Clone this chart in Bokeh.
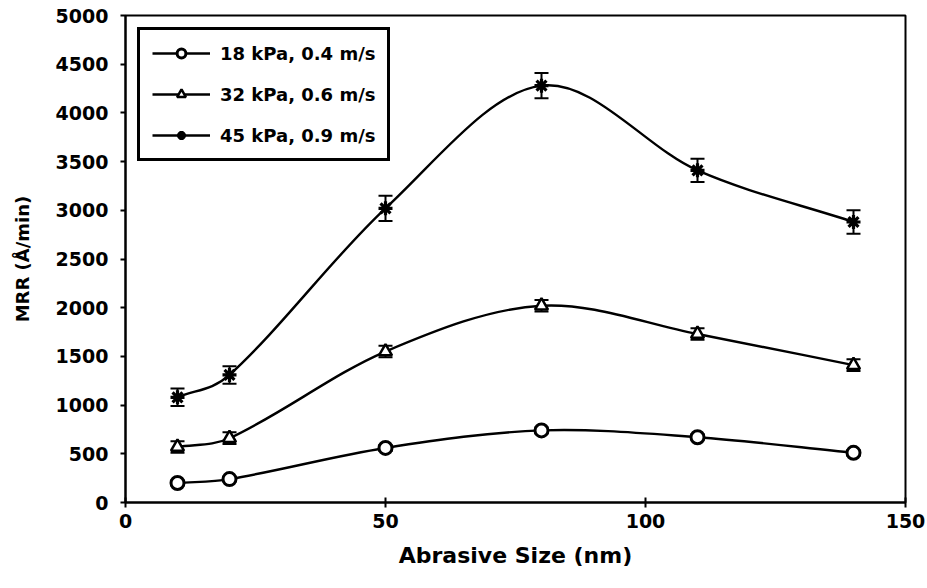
from bokeh.plotting import figure
from bokeh.models import ColumnDataSource, Whisker, TeeHead, Legend, LegendItem, FixedTicker, Range1d
from bokeh.embed import file_html
from bokeh.resources import INLINE

# Abrasive size (nm) and material removal rate (Å/min) for three pad conditions
abrasive_size = [10, 20, 50, 80, 110, 140]

mrr_18kpa = [200, 240, 560, 740, 670, 510]
err_18kpa = [25, 25, 30, 30, 30, 30]

mrr_32kpa = [570, 660, 1550, 2020, 1730, 1410]
err_32kpa = [60, 60, 60, 60, 60, 60]

mrr_45kpa = [1080, 1310, 3020, 4280, 3410, 2880]
err_45kpa = [90, 90, 130, 130, 120, 120]

series_labels = ["18 kPa, 0.4 m/s", "32 kPa, 0.6 m/s", "45 kPa, 0.9 m/s"]
y_ticks = [0, 500, 1000, 1500, 2000, 2500, 3000, 3500, 4000, 4500, 5000]
x_ticks = [0, 50, 100, 150]

FONT = "DejaVu Sans"

p = figure(width=927, height=588, output_backend="svg", toolbar_location=None,
           x_range=Range1d(0, 150), y_range=Range1d(0, 5000))
p.min_border_left = 125
p.min_border_right = 22
p.min_border_top = 15
p.min_border_bottom = 86
p.grid.visible = False
p.outline_line_color = "black"
p.outline_line_width = 2
p.outline_line_alpha = 1
p.background_fill_color = "white"
p.border_fill_color = "white"

for ax in (p.xaxis, p.yaxis):
    ax.axis_line_width = 2
    ax.axis_line_color = "black"
    ax.major_tick_line_width = 2
    ax.minor_tick_line_color = None
    ax.major_label_text_font = FONT
    ax.major_label_text_font_style = "bold"
    ax.major_label_text_font_size = "19px"
    ax.major_label_text_color = "black"
    ax.axis_label_text_font = FONT
    ax.axis_label_text_font_style = "bold"
    ax.axis_label_text_color = "black"

p.xaxis.ticker = FixedTicker(ticks=x_ticks)
p.yaxis.ticker = FixedTicker(ticks=y_ticks)
p.xaxis.major_tick_in = 5
p.xaxis.major_tick_out = 5
p.yaxis.major_tick_in = 0
p.yaxis.major_tick_out = 5
p.xaxis.major_label_standoff = 6
p.yaxis.major_label_standoff = 12
p.xaxis.axis_label = "Abrasive Size (nm)"
p.yaxis.axis_label = "MRR (Å/min)"
p.xaxis.axis_label_text_font_size = "22px"
p.yaxis.axis_label_text_font_size = "18px"
p.xaxis.axis_label_standoff = 12
p.yaxis.axis_label_standoff = 20


def smooth_segments(xs, ys):
    """Cubic Hermite pieces (as Bezier curves) through the data points.
    Interior slopes are central differences over the uneven spacing;
    the end slopes follow the first / last interval."""
    n = len(xs)
    m = []
    for i in range(n):
        if i == 0:
            m.append((ys[1] - ys[0]) / (xs[1] - xs[0]))
        elif i == n - 1:
            m.append((ys[-1] - ys[-2]) / (xs[-1] - xs[-2]))
        else:
            m.append((ys[i + 1] - ys[i - 1]) / (xs[i + 1] - xs[i - 1]))
    seg = dict(x0=[], y0=[], x1=[], y1=[], cx0=[], cy0=[], cx1=[], cy1=[])
    for i in range(n - 1):
        h = (xs[i + 1] - xs[i]) / 3
        seg["x0"].append(xs[i]); seg["y0"].append(ys[i])
        seg["x1"].append(xs[i + 1]); seg["y1"].append(ys[i + 1])
        seg["cx0"].append(xs[i] + h); seg["cy0"].append(ys[i] + m[i] * h)
        seg["cx1"].append(xs[i + 1] - h); seg["cy1"].append(ys[i + 1] - m[i + 1] * h)
    return seg


series = [
    (mrr_18kpa, err_18kpa, "circle", dict(fill_color="white", size=13, line_width=3)),
    (mrr_32kpa, err_32kpa, "triangle", dict(fill_color="white", size=13, line_width=2.5)),
    (mrr_45kpa, err_45kpa, "asterisk", dict(size=14, line_width=3.2)),
]

items = []
for (vals, errs, marker, style), label in zip(series, series_labels):
    p.bezier(source=ColumnDataSource(smooth_segments(abrasive_size, vals)),
             x0="x0", y0="y0", x1="x1", y1="y1",
             cx0="cx0", cy0="cy0", cx1="cx1", cy1="cy1",
             line_color="black", line_width=2.4)
    src = ColumnDataSource(dict(
        x=abrasive_size, y=vals,
        lo=[v - e for v, e in zip(vals, errs)],
        hi=[v + e for v, e in zip(vals, errs)],
    ))
    p.add_layout(Whisker(source=src, base="x", lower="lo", upper="hi",
                         line_color="black", line_width=2,
                         upper_head=TeeHead(size=14, line_width=2, line_color="black"),
                         lower_head=TeeHead(size=14, line_width=2, line_color="black")))
    # one-point line used only as the legend swatch's line
    leg_line = p.line(x=[abrasive_size[0]], y=[vals[0]], line_color="black", line_width=2.6)
    pts = p.scatter(x="x", y="y", source=src, marker=marker, line_color="black", **style)
    items.append(LegendItem(label=label, renderers=[leg_line, pts]))

legend = Legend(items=items, location="top_left")
legend.margin = 12
legend.padding = 12
legend.spacing = 19
legend.glyph_width = 58
legend.glyph_height = 22
legend.label_height = 22
legend.label_standoff = 10
legend.label_text_font = FONT
legend.label_text_font_style = "bold"
legend.label_text_font_size = "18px"
legend.label_text_color = "black"
legend.border_line_color = "black"
legend.border_line_alpha = 1
legend.border_line_width = 3
legend.background_fill_alpha = 1
p.add_layout(legend)

open("out.html", "w").write(file_html(p, INLINE))
